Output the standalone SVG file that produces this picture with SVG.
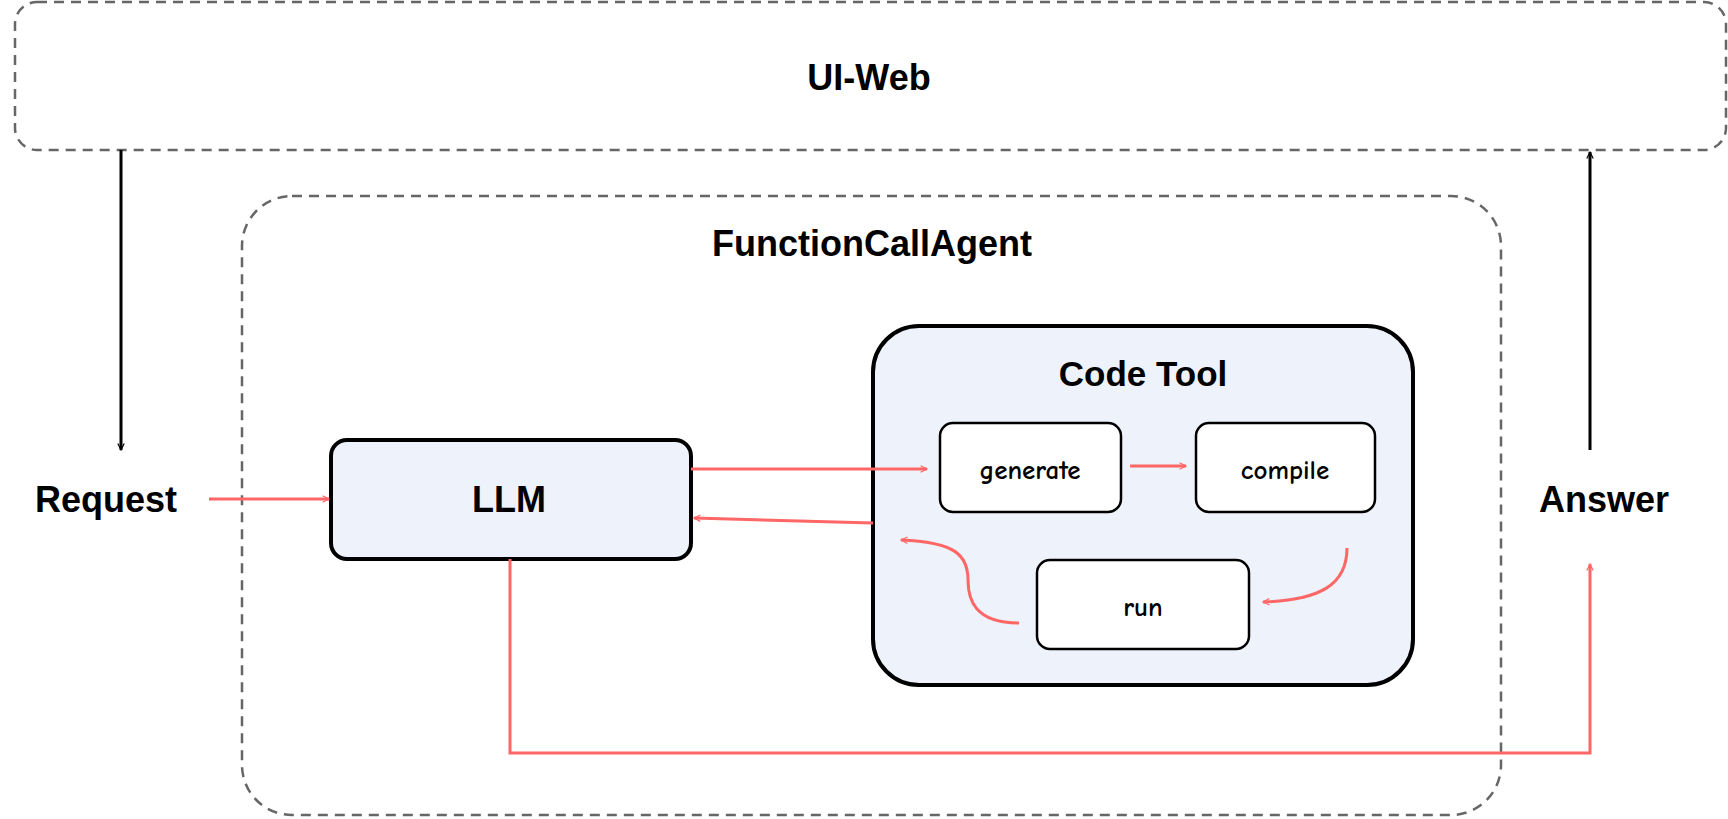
<svg xmlns="http://www.w3.org/2000/svg" width="1728" height="819" viewBox="0 0 1728 819">
<style>
.t{font-family:"Liberation Sans",Arial,sans-serif;font-weight:bold;fill:#000;text-anchor:middle;dominant-baseline:central}
.s{font-family:"Comic Neue","DejaVu Sans",sans-serif;font-weight:bold;font-size:27px;fill:#000;text-anchor:middle;dominant-baseline:central}
.dash{fill:none;stroke:#666;stroke-width:2.5;stroke-dasharray:10 7}
.red{fill:none;stroke:#ff6666;stroke-width:3;marker-end:url(#ra)}
.blk{fill:none;stroke:#000;stroke-width:3;marker-end:url(#ba)}
</style>
<defs>
<marker id="ra" viewBox="0 0 20 20" refX="18" refY="10" markerWidth="8" markerHeight="8" markerUnits="userSpaceOnUse" orient="auto" style="overflow:visible">
<path d="M2 2 L18 10 L2 18" fill="none" stroke="#ff6666" stroke-width="3"/></marker>
<marker id="ba" viewBox="0 0 20 20" refX="18" refY="10" markerWidth="8" markerHeight="8" markerUnits="userSpaceOnUse" orient="auto" style="overflow:visible">
<path d="M2 2 L18 10 L2 18" fill="none" stroke="#000" stroke-width="3"/></marker>
</defs>
<rect width="1728" height="819" fill="#fff"/>
<g id="uiweb"><rect x="15" y="2" width="1711" height="148" rx="22" class="dash"/><text x="869" y="77" class="t" font-size="36">UI-Web</text></g>
<g id="agent"><rect x="242" y="196" width="1259" height="619" rx="50" class="dash"/><text x="872" y="243" class="t" font-size="36">FunctionCallAgent</text></g>
<g id="codetool"><rect x="873" y="326" width="540" height="359" rx="46" fill="#eef2fa" stroke="#000" stroke-width="4"/><text x="1143" y="373" class="t" font-size="35">Code Tool</text></g>
<g id="llm"><rect x="331" y="440" width="360" height="119" rx="16" fill="#eef2fa" stroke="#000" stroke-width="4"/><text x="509" y="499" class="t" font-size="36">LLM</text></g>
<g id="generate"><rect x="940" y="423" width="181" height="89" rx="13" fill="#fff" stroke="#000" stroke-width="2.5"/><text x="1030" y="470" class="s">generate</text></g>
<g id="compile"><rect x="1196" y="423" width="179" height="89" rx="13" fill="#fff" stroke="#000" stroke-width="2.5"/><text x="1285" y="470" class="s">compile</text></g>
<g id="run"><rect x="1037" y="560" width="212" height="89" rx="13" fill="#fff" stroke="#000" stroke-width="2.5"/><text x="1143" y="607" class="s">run</text></g>
<g id="request"><text x="106" y="499" class="t" font-size="36">Request</text></g>
<g id="answer"><text x="1604" y="499" class="t" font-size="36">Answer</text></g>
<g id="connectors">
<path d="M121 150 V450" class="blk"/>
<path d="M1590 450 V152" class="blk"/>
<path d="M209 499 H329" class="red"/>
<path d="M691 469 H927" class="red"/>
<path d="M873 523 L694 518" class="red"/>
<path d="M1130 466 H1186" class="red"/>
<path d="M1347 548 C1347 585 1320 600 1263 602" class="red"/>
<path d="M1019 623 C975 623 968 600 968 580 C968 555 955 542 901 540" class="red"/>
<path d="M510 559 V753 H1590 V564" class="red"/>
</g>
</svg>
